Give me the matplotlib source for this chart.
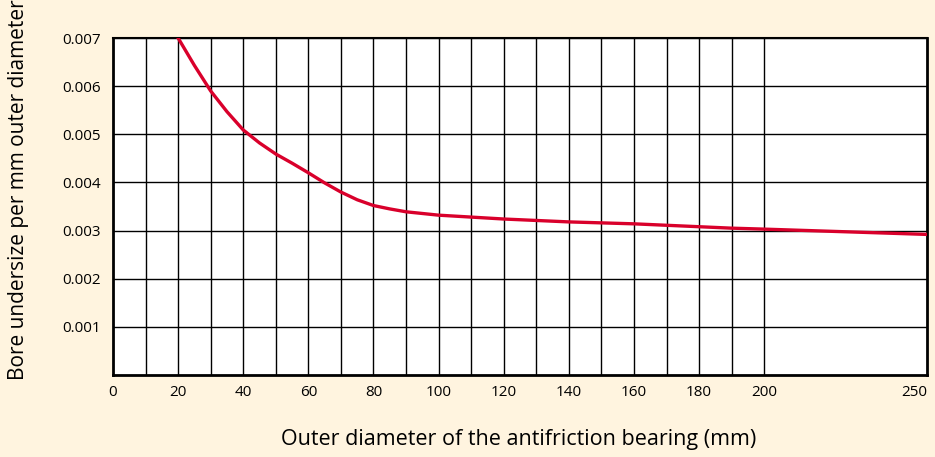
import matplotlib.pyplot as plt

# curve
diameter = [20, 25, 30, 35, 40, 45, 50, 55, 60, 65, 70, 75, 80, 85, 90, 100, 110, 120, 130, 140,
            150, 160, 170, 180, 190, 200, 250]
undersize = [0.00700, 0.00643, 0.00590, 0.00547, 0.00509, 0.00482, 0.00459, 0.00440, 0.00420,
             0.00399, 0.00380, 0.00364, 0.00352, 0.00345, 0.00339, 0.00332, 0.00328, 0.00324,
             0.00321, 0.00318, 0.00316, 0.00314, 0.00311, 0.00308, 0.00305, 0.00303, 0.00292]

x_ticks = [0, 20, 40, 60, 80, 100, 120, 140, 160, 180, 200, 250]
x_grid = list(range(10, 201, 10))
y_ticks = [0.001, 0.002, 0.003, 0.004, 0.005, 0.006, 0.007]

plt.rcParams['font.family'] = ['Open Sans', 'DejaVu Sans']

bg = "#FFF4DF"
fig = plt.figure(figsize=(9.35, 4.57), dpi=100, facecolor=bg)
ax = fig.add_axes([113/935, 1-375/457, (927-113)/935, (375-38)/457])
ax.set_facecolor("white")

# grid
for gx in x_grid:
    ax.axvline(gx, color="black", lw=1.0, zorder=1)
for gy in y_ticks:
    ax.axhline(gy, color="black", lw=1.0, zorder=1)

ax.plot(diameter, undersize, color="#D9002B", lw=2.4, solid_joinstyle="round", zorder=3)

ax.set_xlim(0, 250)
ax.set_ylim(0, 0.007)
ax.set_xticks(x_ticks)
ax.set_xticklabels([str(t) for t in x_ticks])
ax.set_yticks(y_ticks)
ax.set_yticklabels(["%.3f" % t for t in y_ticks])
ax.tick_params(length=0, labelsize=11, colors="black")
ax.tick_params(axis="x", pad=7)
ax.tick_params(axis="y", pad=9)
ax.get_xticklabels()[-1].set_horizontalalignment("right")

for s in ["left", "bottom", "right"]:
    ax.spines[s].set_linewidth(2.0)
ax.spines["top"].set_linewidth(1.5)

fig.text(519/935, 1-440/457, "Outer diameter of the antifriction bearing (mm)",
         ha="center", va="center", fontsize=15.5)
fig.text(19/935, 1-190/457, "Bore undersize per mm outer diameter",
         ha="center", va="center", rotation=90, fontsize=15)

fig.savefig("out.png", dpi=100, facecolor=bg)
